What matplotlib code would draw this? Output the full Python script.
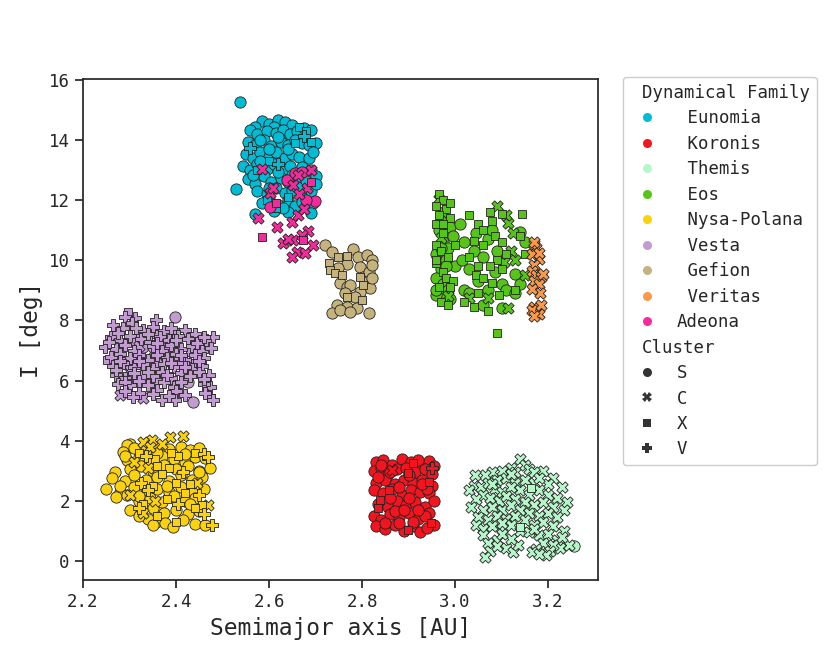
import matplotlib
matplotlib.use("Agg")
import matplotlib.pyplot as plt
from matplotlib.lines import Line2D

plt.rcParams['font.family'] = ['DejaVu Sans Mono']

families = ["Eunomia", "Koronis", "Themis", "Eos", "Nysa-Polana", "Vesta", "Gefion", "Veritas", "Adeona"]
family_labels = [" Eunomia", " Koronis", " Themis", " Eos", " Nysa-Polana", " Vesta", " Gefion", " Veritas", "Adeona"]
clusters = ["S", "C", "X", "V"]
colors = ["#00BCD4", "#F2141E", "#B5F7C9", "#57C41A", "#FAD20F", "#C29BD1", "#C6B27B", "#F99A4A", "#F52A9C"]

eunomia_pts = [
    (2.538, 15.28, 'S'),
    (2.585, 14.62, 'S'), (2.60, 14.55, 'S'), (2.62, 14.68, 'S'), (2.635, 14.6, 'S'), (2.65, 14.5, 'S'), (2.61, 14.45, 'S'), (2.57, 14.45, 'S'),
    (2.56, 14.35, 'S'), (2.575, 14.2, 'S'), (2.595, 14.3, 'S'), (2.615, 14.25, 'S'), (2.63, 14.35, 'S'), (2.645, 14.2, 'S'), (2.66, 14.3, 'S'), (2.675, 14.4, 'S'), (2.69, 14.35, 'S'),
    (2.555, 13.95, 'S'), (2.57, 13.85, 'S'), (2.59, 14.0, 'S'), (2.605, 13.8, 'S'), (2.625, 13.95, 'S'), (2.64, 13.85, 'S'), (2.655, 14.0, 'S'), (2.67, 13.9, 'S'), (2.685, 13.85, 'S'), (2.70, 13.9, 'S'),
    (2.55, 13.55, 'S'), (2.565, 13.4, 'S'), (2.58, 13.6, 'S'), (2.60, 13.45, 'S'), (2.615, 13.6, 'S'), (2.635, 13.4, 'S'), (2.65, 13.55, 'S'), (2.665, 13.45, 'S'), (2.685, 13.4, 'S'), (2.695, 13.6, 'S'),
    (2.545, 13.15, 'S'), (2.56, 13.0, 'S'), (2.575, 13.2, 'S'), (2.595, 13.05, 'S'), (2.61, 13.2, 'S'), (2.63, 13.0, 'S'), (2.645, 13.15, 'S'), (2.67, 13.1, 'S'), (2.69, 13.0, 'S'),
    (2.555, 12.7, 'S'), (2.57, 12.55, 'S'), (2.59, 12.8, 'S'), (2.605, 12.6, 'S'), (2.625, 12.75, 'S'), (2.64, 12.6, 'S'), (2.66, 12.7, 'S'), (2.68, 12.65, 'S'), (2.70, 12.8, 'S'),
    (2.53, 12.38, 'S'), (2.575, 12.3, 'S'), (2.595, 12.2, 'S'), (2.615, 12.4, 'S'), (2.635, 12.25, 'S'), (2.65, 12.35, 'S'), (2.67, 12.2, 'S'), (2.69, 12.3, 'S'), (2.70, 12.55, 'S'),
    (2.585, 11.9, 'S'), (2.60, 12.05, 'S'), (2.62, 11.85, 'S'), (2.64, 12.0, 'S'), (2.655, 11.8, 'S'), (2.67, 11.95, 'S'), (2.695, 11.9, 'S'),
    (2.57, 11.55, 'S'), (2.61, 11.65, 'S'), (2.64, 11.6, 'S'), (2.69, 11.58, 'S'),
    (2.58, 14.0, 'S'), (2.62, 14.1, 'S'), (2.60, 13.7, 'S'), (2.64, 13.7, 'S'), (2.58, 13.3, 'S'), (2.62, 12.95, 'S'), (2.565, 12.85, 'S'), (2.65, 12.85, 'S'),
    (2.60, 12.4, 'S'), (2.66, 12.45, 'S'), (2.63, 11.75, 'S'),
    (2.665, 14.42, 'X'), (2.68, 14.3, 'X'), (2.69, 13.95, 'X'), (2.655, 13.9, 'X'), (2.60, 13.3, 'X'), (2.575, 13.0, 'X'), (2.595, 12.0, 'X'), (2.64, 12.1, 'X'), (2.615, 11.75, 'X'),
    (2.675, 14.15, 'V'), (2.62, 13.2, 'V'), (2.56, 13.75, 'V'),
]

koronis_pts = [
    (2.83, 3.3, 'S'), (2.845, 3.35, 'S'), (2.865, 3.2, 'S'), (2.885, 3.38, 'S'), (2.905, 3.3, 'S'), (2.93, 3.2, 'S'), (2.945, 3.33, 'S'), (2.955, 3.15, 'S'),
    (2.825, 3.0, 'S'), (2.84, 3.1, 'S'), (2.855, 2.9, 'S'), (2.875, 3.05, 'S'), (2.895, 3.1, 'S'), (2.915, 2.95, 'S'), (2.935, 3.05, 'S'), (2.95, 2.9, 'S'),
    (2.83, 2.6, 'S'), (2.85, 2.7, 'S'), (2.87, 2.55, 'S'), (2.89, 2.7, 'S'), (2.91, 2.6, 'S'), (2.93, 2.7, 'S'), (2.95, 2.5, 'S'),
    (2.825, 2.35, 'S'), (2.845, 2.25, 'S'), (2.865, 2.4, 'S'), (2.885, 2.2, 'S'), (2.905, 2.35, 'S'), (2.925, 2.3, 'S'), (2.945, 2.25, 'S'),
    (2.835, 1.9, 'S'), (2.855, 1.8, 'S'), (2.875, 2.0, 'S'), (2.895, 1.85, 'S'), (2.915, 1.95, 'S'), (2.935, 1.8, 'S'), (2.955, 2.0, 'S'), (2.945, 1.6, 'S'),
    (2.825, 1.5, 'S'), (2.84, 1.35, 'S'), (2.86, 1.55, 'S'), (2.88, 1.45, 'S'), (2.90, 1.6, 'S'), (2.92, 1.4, 'S'), (2.935, 1.5, 'S'),
    (2.83, 1.15, 'S'), (2.85, 1.05, 'S'), (2.87, 1.2, 'S'), (2.89, 1.0, 'S'), (2.91, 1.15, 'S'), (2.925, 0.98, 'S'), (2.955, 1.2, 'S'), (2.94, 1.1, 'S'),
    (2.86, 2.95, 'S'), (2.88, 2.45, 'S'), (2.90, 2.1, 'S'), (2.87, 1.65, 'S'), (2.91, 1.3, 'S'), (2.85, 1.25, 'S'), (2.92, 3.35, 'S'), (2.89, 1.7, 'S'), (2.94, 2.4, 'S'), (2.835, 2.8, 'S'),
    (2.84, 3.2, 'S'), (2.90, 2.85, 'S'), (2.93, 2.55, 'S'), (2.86, 2.1, 'S'), (2.92, 1.7, 'S'), (2.88, 1.25, 'S'),
    (2.910, 3.25, 'X'), (2.899, 2.92, 'X'), (2.945, 2.64, 'X'), (2.839, 2.03, 'X'), (2.857, 2.36, 'X'), (2.948, 1.25, 'X'), (2.899, 1.03, 'X'), (2.835, 1.75, 'X'),
    (2.864, 3.03, 'C'),
    (2.951, 3.08, 'V'),
]

themis_pts = [
    (3.14, 3.4, 'C'), (3.15, 3.2, 'C'), (3.12, 3.1, 'C'), (3.10, 3.0, 'C'), (3.08, 2.95, 'C'), (3.065, 2.85, 'C'), (3.13, 2.95, 'C'), (3.16, 3.05, 'C'),
    (3.19, 3.0, 'C'), (3.21, 2.75, 'C'), (3.20, 2.55, 'C'), (3.23, 2.45, 'C'), (3.04, 2.5, 'C'), (3.03, 2.35, 'C'), (3.055, 2.45, 'C'), (3.06, 2.2, 'C'),
    (3.045, 2.05, 'C'), (3.035, 1.8, 'C'), (3.07, 2.6, 'C'), (3.09, 2.7, 'C'), (3.11, 2.75, 'C'), (3.13, 2.6, 'C'), (3.15, 2.7, 'C'), (3.17, 2.6, 'C'),
    (3.18, 2.35, 'C'), (3.20, 2.2, 'C'), (3.22, 2.1, 'C'), (3.24, 1.95, 'C'), (3.235, 1.7, 'C'), (3.085, 2.4, 'C'), (3.10, 2.3, 'C'), (3.12, 2.45, 'C'),
    (3.14, 2.35, 'C'), (3.16, 2.2, 'C'), (3.19, 1.95, 'C'), (3.21, 1.8, 'C'), (3.075, 2.1, 'C'), (3.095, 2.0, 'C'), (3.11, 2.15, 'C'), (3.13, 2.05, 'C'),
    (3.15, 1.95, 'C'), (3.17, 1.85, 'C'), (3.20, 1.6, 'C'), (3.22, 1.45, 'C'), (3.06, 1.7, 'C'), (3.08, 1.8, 'C'), (3.10, 1.7, 'C'), (3.12, 1.85, 'C'),
    (3.14, 1.7, 'C'), (3.16, 1.6, 'C'), (3.18, 1.5, 'C'), (3.05, 1.45, 'C'), (3.07, 1.35, 'C'), (3.09, 1.5, 'C'), (3.11, 1.4, 'C'), (3.13, 1.5, 'C'),
    (3.15, 1.35, 'C'), (3.17, 1.2, 'C'), (3.19, 1.3, 'C'), (3.21, 1.15, 'C'), (3.235, 1.0, 'C'), (3.045, 1.2, 'C'), (3.06, 1.05, 'C'), (3.08, 1.15, 'C'),
    (3.10, 1.05, 'C'), (3.12, 1.2, 'C'), (3.14, 1.0, 'C'), (3.16, 0.95, 'C'), (3.18, 0.85, 'C'), (3.20, 0.9, 'C'), (3.22, 0.7, 'C'), (3.225, 0.45, 'C'),
    (3.21, 0.55, 'C'), (3.19, 0.6, 'C'), (3.175, 0.4, 'C'), (3.165, 0.3, 'C'), (3.06, 0.85, 'C'), (3.07, 0.6, 'C'), (3.075, 0.35, 'C'), (3.065, 0.13, 'C'),
    (3.09, 0.7, 'C'), (3.11, 0.45, 'C'), (3.125, 0.3, 'C'), (3.135, 0.55, 'C'), (3.12, 0.75, 'C'), (3.10, 0.9, 'C'), (3.205, 0.35, 'C'), (3.195, 0.2, 'C'),
    (3.18, 0.25, 'C'), (3.245, 0.55, 'C'), (3.23, 0.8, 'C'), (3.08, 2.55, 'C'), (3.17, 2.95, 'C'), (3.043, 2.86, 'C'),
    (3.12, 2.9, 'C'), (3.18, 2.75, 'C'), (3.10, 1.25, 'C'), (3.17, 1.05, 'C'), (3.09, 0.5, 'C'),
    (3.163, 2.44, 'X'), (3.139, 1.12, 'X'),
    (3.256, 0.5, 'S'), (3.20, 0.31, 'S'),
]

eos_pts = [
    (2.965, 11.0, 'S'), (2.975, 10.6, 'S'), (2.96, 10.2, 'S'), (2.98, 10.0, 'S'), (2.97, 9.7, 'S'), (2.99, 11.1, 'S'), (2.985, 10.4, 'S'), (2.96, 9.4, 'S'),
    (2.975, 8.9, 'S'), (2.96, 8.85, 'S'), (2.99, 8.7, 'S'), (2.975, 9.2, 'S'), (3.0, 9.8, 'S'), (2.995, 10.8, 'S'), (2.97, 11.3, 'S'), (2.985, 9.0, 'S'),
    (2.96, 9.0, 'S'), (2.98, 9.8, 'S'), (2.97, 10.4, 'S'),
    (2.965, 12.2, 'X'), (2.975, 12.0, 'X'), (2.96, 11.8, 'X'), (2.98, 11.7, 'X'), (2.965, 11.5, 'X'), (2.99, 11.4, 'X'), (2.96, 11.2, 'X'), (2.975, 10.9, 'X'),
    (2.96, 10.5, 'X'), (2.97, 10.3, 'X'), (2.985, 10.1, 'X'), (2.96, 9.9, 'X'), (2.975, 9.6, 'X'), (2.965, 9.1, 'X'), (2.98, 9.4, 'X'), (2.995, 9.3, 'X'),
    (2.97, 8.6, 'X'), (2.985, 8.5, 'X'), (3.0, 10.5, 'X'), (2.99, 11.9, 'X'), (2.975, 11.2, 'X'), (2.96, 10.0, 'X'), (2.99, 9.1, 'X'),
    (2.965, 12.05, 'C'), (2.975, 11.6, 'C'), (2.97, 10.75, 'C'), (2.985, 8.8, 'C'),
    (3.02, 10.6, 'S'), (3.04, 10.3, 'S'), (3.06, 10.1, 'S'), (3.03, 9.7, 'S'), (3.05, 9.3, 'S'), (3.02, 9.0, 'S'), (3.01, 11.2, 'S'), (3.045, 10.9, 'S'),
    (3.07, 9.0, 'S'), (3.09, 10.3, 'S'), (3.10, 9.2, 'S'), (3.085, 9.6, 'S'), (3.03, 8.9, 'S'), (3.06, 8.5, 'S'), (3.10, 8.4, 'S'), (3.07, 10.7, 'S'),
    (3.015, 10.0, 'S'), (3.11, 9.0, 'S'), (3.08, 11.0, 'S'),
    (3.03, 11.5, 'X'), (3.05, 11.2, 'X'), (3.06, 11.0, 'X'), (3.08, 11.3, 'X'), (3.075, 11.6, 'X'), (3.10, 11.55, 'X'), (3.085, 10.8, 'X'), (3.04, 10.65, 'X'),
    (3.06, 10.5, 'X'), (3.09, 10.0, 'X'), (3.03, 10.1, 'X'), (3.05, 9.8, 'X'), (3.075, 9.8, 'X'), (3.045, 9.5, 'X'), (3.10, 9.7, 'X'), (3.06, 9.4, 'X'),
    (3.08, 9.25, 'X'), (3.05, 8.9, 'X'), (3.095, 8.85, 'X'), (3.02, 8.6, 'X'), (3.04, 8.45, 'X'), (3.10, 10.6, 'X'), (3.11, 10.2, 'X'), (3.07, 8.3, 'X'),
    (3.09, 7.6, 'X'),
    (3.09, 11.8, 'C'), (3.115, 11.25, 'C'), (3.12, 10.3, 'C'), (3.105, 9.95, 'C'), (3.07, 8.75, 'C'), (3.115, 8.4, 'C'), (3.03, 8.75, 'C'), (3.11, 11.5, 'C'),
    (3.14, 10.95, 'S'), (3.15, 10.6, 'S'), (3.13, 9.55, 'S'), (3.14, 9.2, 'S'), (3.13, 8.9, 'S'),
    (3.145, 11.55, 'X'), (3.14, 10.8, 'X'), (3.13, 9.0, 'X'), (3.15, 10.2, 'X'),
    (3.125, 10.9, 'C'), (3.13, 10.0, 'C'), (3.15, 9.5, 'C'),
]

nysa_pts = [
    (2.348, 4.03, 'C'), (2.387, 4.14, 'C'), (2.414, 4.17, 'C'), (2.33, 3.95, 'C'), (2.30, 3.88, 'S'), (2.294, 3.86, 'S'),
    (2.285, 3.62, 'S'), (2.31, 3.75, 'S'), (2.335, 3.7, 'S'), (2.36, 3.78, 'S'), (2.385, 3.72, 'S'), (2.41, 3.8, 'S'), (2.43, 3.68, 'S'), (2.45, 3.75, 'S'),
    (2.32, 3.6, 'X'), (2.44, 3.6, 'X'), (2.46, 3.55, 'V'), (2.345, 3.8, 'C'),
    (2.295, 3.35, 'S'), (2.32, 3.45, 'S'), (2.345, 3.3, 'S'), (2.37, 3.5, 'S'), (2.395, 3.4, 'S'), (2.42, 3.3, 'S'), (2.44, 3.45, 'S'), (2.462, 3.42, 'S'),
    (2.355, 3.4, 'X'), (2.405, 3.5, 'X'), (2.469, 3.47, 'V'), (2.335, 3.5, 'V'), (2.31, 3.3, 'C'),
    (2.268, 2.97, 'S'), (2.30, 3.05, 'S'), (2.325, 3.15, 'S'), (2.35, 3.0, 'S'), (2.375, 3.2, 'S'), (2.40, 3.05, 'S'), (2.425, 3.15, 'S'), (2.45, 3.0, 'S'), (2.473, 3.08, 'S'),
    (2.385, 3.1, 'X'), (2.36, 3.15, 'X'), (2.34, 3.1, 'C'), (2.415, 2.95, 'V'),
    (2.262, 2.75, 'S'), (2.29, 2.65, 'S'), (2.31, 2.85, 'S'), (2.335, 2.7, 'S'), (2.36, 2.8, 'S'), (2.385, 2.65, 'S'), (2.41, 2.85, 'S'), (2.435, 2.7, 'S'), (2.455, 2.8, 'S'),
    (2.37, 2.9, 'X'), (2.40, 2.6, 'X'), (2.325, 2.6, 'V'), (2.445, 2.6, 'C'),
    (2.25, 2.40, 'S'), (2.28, 2.3, 'S'), (2.31, 2.45, 'S'), (2.335, 2.25, 'S'), (2.36, 2.4, 'S'), (2.385, 2.3, 'S'), (2.41, 2.45, 'S'), (2.435, 2.3, 'S'), (2.46, 2.4, 'S'),
    (2.35, 2.5, 'X'), (2.42, 2.25, 'X'), (2.34, 2.35, 'V'), (2.30, 2.2, 'C'),
    (2.272, 2.14, 'S'), (2.294, 2.2, 'S'), (2.32, 2.0, 'S'), (2.345, 2.1, 'S'), (2.37, 1.95, 'S'), (2.395, 2.15, 'S'), (2.42, 2.0, 'S'), (2.44, 2.1, 'S'),
    (2.455, 1.86, 'X'), (2.38, 2.05, 'X'), (2.33, 1.9, 'X'), (2.469, 1.86, 'C'), (2.355, 2.0, 'C'), (2.405, 1.9, 'V'),
    (2.30, 1.7, 'S'), (2.325, 1.55, 'S'), (2.35, 1.75, 'S'), (2.375, 1.6, 'S'), (2.40, 1.7, 'S'), (2.425, 1.55, 'S'), (2.45, 1.65, 'S'),
    (2.44, 1.75, 'X'), (2.36, 1.5, 'X'), (2.32, 1.75, 'V'), (2.46, 1.55, 'V'), (2.33, 1.6, 'C'),
    (2.358, 1.31, 'S'), (2.376, 1.25, 'S'), (2.394, 1.14, 'S'), (2.441, 1.22, 'S'), (2.462, 1.2, 'S'), (2.34, 1.4, 'S'), (2.415, 1.35, 'S'), (2.32, 1.5, 'S'),
    (2.29, 3.5, 'S'), (2.36, 3.6, 'S'), (2.42, 3.55, 'S'), (2.38, 2.5, 'S'), (2.32, 2.15, 'S'), (2.43, 1.9, 'S'), (2.35, 1.2, 'S'), (2.45, 2.95, 'S'), (2.28, 2.5, 'S'),
    (2.39, 3.6, 'X'), (2.43, 2.55, 'X'), (2.37, 3.9, 'C'), (2.45, 2.2, 'V'),
    (2.477, 1.2, 'V'), (2.40, 1.3, 'X'),
]

vesta_pts = [
    (2.297, 8.29, 'X'), (2.312, 8.07, 'V'), (2.358, 8.02, 'V'), (2.29, 8.1, 'V'), (2.398, 8.13, 'S'),
    (2.265, 7.85, 'V'), (2.285, 7.75, 'V'), (2.305, 7.9, 'V'), (2.33, 7.7, 'V'), (2.35, 7.8, 'V'), (2.375, 7.65, 'V'), (2.39, 7.75, 'V'), (2.42, 7.68, 'V'), (2.44, 7.55, 'V'),
    (2.32, 7.6, 'X'), (2.40, 7.6, 'C'),
    (2.26, 7.45, 'V'), (2.28, 7.35, 'V'), (2.30, 7.5, 'V'), (2.325, 7.4, 'V'), (2.345, 7.3, 'V'), (2.365, 7.45, 'V'), (2.385, 7.35, 'V'), (2.405, 7.5, 'V'), (2.425, 7.4, 'V'),
    (2.465, 7.35, 'V'), (2.48, 7.46, 'V'), (2.308, 7.35, 'S'), (2.452, 7.3, 'S'), (2.355, 7.55, 'X'),
    (2.247, 7.13, 'V'), (2.27, 7.05, 'V'), (2.29, 7.2, 'V'), (2.31, 7.0, 'V'), (2.35, 7.15, 'V'), (2.37, 7.0, 'V'), (2.39, 7.2, 'V'), (2.41, 7.05, 'V'), (2.435, 7.15, 'V'),
    (2.455, 7.0, 'V'), (2.475, 7.1, 'V'), (2.33, 7.13, 'S'), (2.38, 7.1, 'S'), (2.32, 7.15, 'C'),
    (2.26, 6.8, 'V'), (2.28, 6.9, 'V'), (2.30, 6.75, 'V'), (2.32, 6.85, 'V'), (2.34, 6.7, 'V'), (2.36, 6.85, 'V'), (2.38, 6.75, 'V'), (2.40, 6.9, 'V'), (2.42, 6.7, 'V'),
    (2.44, 6.85, 'V'), (2.46, 6.75, 'V'), (2.251, 6.69, 'X'), (2.43, 6.95, 'X'), (2.37, 6.6, 'S'), (2.35, 6.95, 'C'),
    (2.265, 6.5, 'V'), (2.285, 6.6, 'V'), (2.31, 6.45, 'V'), (2.33, 6.55, 'V'), (2.35, 6.4, 'V'), (2.375, 6.55, 'V'), (2.395, 6.45, 'V'), (2.415, 6.6, 'V'), (2.435, 6.4, 'V'),
    (2.455, 6.5, 'V'), (2.297, 6.52, 'S'), (2.36, 6.6, 'S'), (2.44, 6.6, 'X'),
    (2.27, 6.2, 'V'), (2.29, 6.1, 'V'), (2.31, 6.25, 'V'), (2.35, 6.15, 'V'), (2.37, 6.3, 'V'), (2.39, 6.1, 'V'), (2.41, 6.25, 'V'), (2.43, 6.15, 'V'), (2.45, 6.3, 'V'),
    (2.47, 6.2, 'V'), (2.33, 6.19, 'S'), (2.30, 6.35, 'C'),
    (2.275, 5.9, 'V'), (2.30, 5.85, 'V'), (2.32, 6.0, 'V'), (2.34, 5.85, 'V'), (2.375, 5.95, 'V'), (2.395, 5.8, 'V'), (2.41, 5.95, 'V'), (2.473, 5.8, 'V'), (2.46, 5.9, 'V'),
    (2.358, 6.02, 'S'), (2.426, 5.97, 'S'), (2.28, 6.05, 'X'),
    (2.255, 7.3, 'V'), (2.275, 7.6, 'V'), (2.315, 7.75, 'V'), (2.34, 7.55, 'V'), (2.36, 7.25, 'V'), (2.40, 7.35, 'V'), (2.445, 7.25, 'V'), (2.46, 7.45, 'V'),
    (2.28, 6.65, 'V'), (2.32, 6.65, 'V'), (2.39, 6.6, 'V'), (2.41, 6.85, 'V'), (2.45, 6.65, 'V'), (2.27, 6.35, 'V'), (2.34, 6.3, 'V'), (2.38, 6.2, 'V'),
    (2.42, 6.45, 'V'), (2.46, 6.05, 'V'), (2.29, 5.95, 'V'), (2.36, 5.7, 'V'), (2.40, 5.65, 'V'), (2.32, 5.6, 'V'), (2.47, 5.5, 'V'),
    (2.28, 5.52, 'C'), (2.33, 5.41, 'C'), (2.308, 5.47, 'V'), (2.369, 5.36, 'V'), (2.398, 5.36, 'V'), (2.419, 5.52, 'V'), (2.48, 5.36, 'V'), (2.462, 5.58, 'V'),
    (2.35, 5.55, 'V'), (2.385, 5.5, 'V'), (2.29, 5.65, 'V'), (2.437, 5.30, 'S'),
]

gefion_pts = [
    (2.720, 10.51, 'S'), (2.735, 10.27, 'S'), (2.781, 10.38, 'S'), (2.792, 10.12, 'S'), (2.810, 10.18, 'S'), (2.728, 9.90, 'X'), (2.749, 10.12, 'X'), (2.767, 10.16, 'X'),
    (2.767, 9.87, 'S'), (2.731, 9.68, 'X'), (2.742, 9.57, 'X'), (2.756, 9.51, 'X'), (2.749, 9.74, 'S'), (2.796, 9.79, 'S'), (2.803, 9.46, 'S'), (2.796, 9.46, 'X'),
    (2.814, 9.62, 'S'), (2.753, 9.24, 'S'), (2.767, 9.13, 'S'), (2.774, 9.18, 'S'), (2.810, 9.29, 'S'), (2.817, 9.07, 'S'), (2.763, 8.91, 'S'), (2.767, 8.79, 'X'),
    (2.796, 8.96, 'S'), (2.799, 8.68, 'X'), (2.785, 8.79, 'S'), (2.746, 8.52, 'S'), (2.767, 8.46, 'S'), (2.789, 8.41, 'S'), (2.735, 8.24, 'S'), (2.753, 8.35, 'S'),
    (2.774, 8.29, 'S'), (2.814, 8.24, 'S'), (2.803, 9.18, 'X'), (2.821, 10.01, 'S'), (2.821, 9.85, 'S'), (2.821, 9.40, 'S'),
]

veritas_pts = [
    (3.17, 10.55, 'C'), (3.175, 10.4, 'C'), (3.165, 10.2, 'C'), (3.18, 10.05, 'C'), (3.17, 9.85, 'C'), (3.165, 9.65, 'C'), (3.175, 9.5, 'C'), (3.185, 9.45, 'C'),
    (3.17, 9.3, 'C'), (3.18, 9.2, 'C'), (3.19, 9.55, 'C'), (3.183, 8.9, 'C'), (3.165, 9.05, 'C'), (3.17, 8.45, 'C'), (3.175, 8.3, 'C'), (3.18, 8.2, 'C'),
    (3.165, 8.35, 'C'), (3.185, 8.5, 'C'), (3.17, 8.15, 'C'), (3.18, 10.25, 'C'), (3.17, 10.6, 'C'),
]

adeona_pts = [
    (2.584, 13.04, 'C'), (2.602, 12.24, 'C'), (2.576, 11.4, 'C'), (2.617, 11.12, 'C'), (2.630, 10.59, 'C'), (2.651, 10.68, 'C'), (2.660, 10.29, 'C'), (2.649, 10.12, 'C'),
    (2.677, 10.26, 'C'), (2.695, 10.51, 'C'), (2.684, 10.96, 'C'), (2.67, 10.85, 'C'), (2.662, 12.84, 'C'), (2.681, 12.41, 'C'), (2.652, 12.5, 'C'), (2.609, 12.41, 'C'),
    (2.649, 11.29, 'C'), (2.662, 11.51, 'C'), (2.69, 13.0, 'C'), (2.665, 12.2, 'C'), (2.675, 11.7, 'C'), (2.64, 10.7, 'C'),
    (2.638, 12.67, 'S'), (2.699, 11.96, 'S'), (2.602, 11.79, 'S'), (2.655, 12.9, 'S'), (2.68, 12.0, 'S'), (2.672, 12.95, 'S'),
    (2.584, 10.79, 'X'), (2.673, 10.68, 'X'), (2.615, 11.9, 'X'), (2.69, 12.6, 'X'),
]

family_points = [eunomia_pts, koronis_pts, themis_pts, eos_pts, nysa_pts, vesta_pts, gefion_pts, veritas_pts, adeona_pts]
markers = {"S": "o", "C": "X", "X": (4, 0, 45), "V": "P"}

fig = plt.figure(figsize=(8.3, 6.64), dpi=100)
ax = fig.add_axes([0.1, 0.1265, 0.6205, 0.7545])

for pts, col in zip(family_points, colors):
    for cl in clusters:
        xs = [p[0] for p in pts if p[2] == cl]
        ys = [p[1] for p in pts if p[2] == cl]
        if xs:
            ax.scatter(xs, ys, s=66, marker=markers[cl], c=col, edgecolors='#222222', linewidths=0.6, zorder=2)

ax.set_xlim(2.2, 3.3075)
ax.set_ylim(-0.63, 16.03)
ax.set_xticks([2.2, 2.4, 2.6, 2.8, 3.0, 3.2])
ax.set_yticks(list(range(0, 17, 2)))
ax.tick_params(axis='both', labelsize=12.5, length=6, width=1.25, colors='#262626', direction='out')
for sp in ax.spines.values():
    sp.set_linewidth(1.25)
    sp.set_color('#262626')
ax.set_xlabel("Semimajor axis [AU]", fontsize=16.5, color='#262626')
ax.set_ylabel("I [deg]", fontsize=16.5, color='#262626')

handles = [Line2D([], [], visible=False)]
labels = ["Dynamical Family"]
for lab, col in zip(family_labels, colors):
    handles.append(Line2D([], [], linestyle='none', marker='o', markersize=6.5, markerfacecolor=col, markeredgewidth=0))
    labels.append(lab)
handles.append(Line2D([], [], visible=False))
labels.append("Cluster")
for cl in clusters:
    ms = 6.5 if cl != "X" else 7.5
    handles.append(Line2D([], [], linestyle='none', marker=markers[cl], markersize=ms, markerfacecolor='#333333', markeredgewidth=0))
    labels.append(cl)

leg = ax.legend(handles, labels, loc='upper left', bbox_to_anchor=(1.048, 1.004), borderaxespad=0,
                fontsize=12.5, labelspacing=0.43, handletextpad=0.7, frameon=True, edgecolor='#cccccc', framealpha=1)
for t in leg.get_texts():
    t.set_color('#262626')
for vpack in leg._legend_handle_box.get_children():
    for hpack in vpack.get_children():
        draw_area, text_area = hpack.get_children()
        arts = draw_area.get_children()
        if not all(a.get_visible() for a in arts):
            draw_area.set_width(0)

fig.savefig("out.png", dpi=100)
